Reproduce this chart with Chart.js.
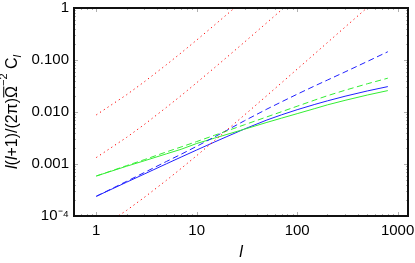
<!DOCTYPE html>
<html>
<head>
<meta charset="utf-8">
<script src="https://cdn.jsdelivr.net/npm/chart.js@4/dist/chart.umd.min.js"></script>
<style>
    html, body { margin: 0; padding: 0; background: #fff; }
    #wrap { width: 415px; height: 263px; }
</style>
</head>
<body>
<div id="wrap"><canvas id="chart"></canvas></div>
<script>
const FONT = "'Liberation Sans', Arial, sans-serif";

// multipoles l
const L = [1, 2, 3, 5, 7, 10, 15, 20, 30, 50, 70, 100, 150, 200, 300, 500, 800];

// red dotted reference curves (null = off the top of the plot)
const RED_1 = [0.00879, 0.0214, 0.0379, 0.0813, 0.137, 0.242, 0.468, 0.752, 1.47, null, null, null, null, null, null, null, null];
const RED_2 = [0.00133, 0.00324, 0.00573, 0.0123, 0.0207, 0.0366, 0.0707, 0.1135, 0.222, 0.523, 0.922, 1.68, null, null, null, null, null];
const RED_3 = [5.26e-5, 1.28e-4, 2.27e-4, 4.87e-4, 8.22e-4, 1.45e-3, 2.80e-3, 4.50e-3, 8.81e-3, 0.0207, 0.0365, 0.0667, 0.1325, 0.216, 0.429, 1.02, null];

// blue and green spectra
const BLUE_SOLID = [2.39e-4, 4.46e-4, 6.40e-4, 1.01e-3, 1.36e-3, 1.86e-3, 2.64e-3, 3.37e-3, 4.73e-3, 7.02e-3, 8.83e-3, 0.01107, 0.0140, 0.01637, 0.0201, 0.0254, 0.0308];
const BLUE_DASHED = [2.39e-4, 4.63e-4, 6.84e-4, 1.12e-3, 1.54e-3, 2.19e-3, 3.31e-3, 4.46e-3, 6.81e-3, 0.01138, 0.01570, 0.02198, 0.03184, 0.04111, 0.0590, 0.0938, 0.1442];
const GREEN_SOLID = [5.87e-4, 9.04e-4, 1.15e-3, 1.57e-3, 1.92e-3, 2.48e-3, 3.14e-3, 3.71e-3, 4.68e-3, 6.31e-3, 7.62e-3, 9.29e-3, 0.01164, 0.01371, 0.01675, 0.0212, 0.0258];
const GREEN_DASHED = [5.87e-4, 9.29e-4, 1.21e-3, 1.71e-3, 2.13e-3, 2.70e-3, 3.56e-3, 4.33e-3, 5.70e-3, 8.06e-3, 0.01013, 0.01291, 0.01700, 0.02056, 0.0262, 0.0349, 0.0447];

// axes
const X_TICKS = [1, 10, 100, 1000];
const X_TICK_LABELS = ['1', '10', '100', '1000'];
const Y_TICKS = [1e-4, 0.001, 0.01, 0.1, 1];
const Y_TICK_LABELS = ['10\u207B\u2074', '0.001', '0.010', '0.100', '1'];
const X_MIN = 0.62, X_MAX = 1270;
const Y_MIN = 1e-4, Y_MAX = 1;

function points(values) {
    return L.map((l, i) => ({ x: l, y: values[i] }));
}

function series(values, color, dash) {
    return {
        data: points(values),
        borderColor: color,
        borderWidth: 1,
        borderDash: dash,
        pointRadius: 0,
        fill: false,
        tension: 0,
    };
}

function minorValues(min, max) {
    const out = [];
    for (let d = Math.floor(Math.log10(min)); d <= Math.ceil(Math.log10(max)); d++) {
        for (let k = 1; k <= 9; k++) {
            const v = k * Math.pow(10, d);
            if (v >= min && v <= max) out.push({ v: v, major: k === 1 });
        }
    }
    return out;
}

// Mathematica-style frame with inward ticks on all four sides
const framePlugin = {
    id: 'frame',
    afterDatasetsDraw(chart) {
        const { ctx, chartArea: a, scales } = chart;
        ctx.save();
        ctx.strokeStyle = '#b0b0b0';
        ctx.lineWidth = 1;
        ctx.beginPath();
        for (const t of minorValues(X_MIN, X_MAX)) {
            const x = Math.round(scales.x.getPixelForValue(t.v)) + 0.5;
            const len = t.major ? 4 : 2;
            ctx.moveTo(x, a.bottom); ctx.lineTo(x, a.bottom - len);
            ctx.moveTo(x, a.top); ctx.lineTo(x, a.top + len);
        }
        for (const t of minorValues(Y_MIN, Y_MAX)) {
            const y = Math.round(scales.y.getPixelForValue(t.v)) + 0.5;
            const len = t.major ? 4 : 2;
            ctx.moveTo(a.left, y); ctx.lineTo(a.left + len, y);
            ctx.moveTo(a.right, y); ctx.lineTo(a.right - len, y);
        }
        ctx.stroke();
        ctx.strokeStyle = '#111';
        ctx.lineWidth = 2;
        ctx.strokeRect(a.left, a.top, a.right - a.left, a.bottom - a.top);
        ctx.restore();
    }
};

// y axis title: l(l+1)/(2π) Ω̄^-2 C_l
const yTitlePlugin = {
    id: 'yTitle',
    afterDraw(chart) {
        const { ctx, chartArea: a } = chart;
        const size = 16;
        const parts = [
            { t: 'l', it: true },
            { t: '(' },
            { t: 'l', it: true },
            { t: '+1)/(2\u03C0)' },
            { t: '\u03A9', bar: true },
            { t: '\u22122', sup: true },
            { t: ' C' },
            { t: 'l', it: true, sub: true },
        ];
        const fontFor = p => `${p.it ? 'italic ' : ''}${p.sup || p.sub ? Math.round(size * 0.7) : size}px ${FONT}`;
        ctx.save();
        let total = 0;
        for (const p of parts) {
            ctx.font = fontFor(p);
            p.w = ctx.measureText(p.t).width;
            total += p.w;
        }
        ctx.translate(17, (a.top + a.bottom) / 2);
        ctx.rotate(-Math.PI / 2);
        ctx.fillStyle = '#000';
        ctx.strokeStyle = '#000';
        ctx.textBaseline = 'alphabetic';
        let x = -total / 2;
        for (const p of parts) {
            ctx.font = fontFor(p);
            let y = 0;
            if (p.sup) y = -size * 0.62;
            if (p.sub) y = size * 0.25;
            ctx.fillText(p.t, x, y);
            if (p.bar) {
                ctx.lineWidth = 1;
                ctx.beginPath();
                ctx.moveTo(x + 0.5, -size * 0.83);
                ctx.lineTo(x + p.w - 0.5, -size * 0.83);
                ctx.stroke();
            }
            x += p.w;
        }
        ctx.restore();
    }
};

new Chart(document.getElementById('chart'), {
    type: 'line',
    data: {
        datasets: [
            series(RED_1, '#ff0000', [1.2, 3.3]),
            series(RED_2, '#ff0000', [1.2, 3.3]),
            series(RED_3, '#ff0000', [1.2, 3.3]),
            series(GREEN_DASHED, '#33ee33', [6, 3.5]),
            series(BLUE_DASHED, '#2020ff', [6, 3.5]),
            series(GREEN_SOLID, '#33ee33', []),
            series(BLUE_SOLID, '#2020ff', []),
        ]
    },
    options: {
        responsive: true,
        maintainAspectRatio: false,
        animation: false,
        layout: {
            padding: { top: 8, right: 7, left: 0, bottom: 0 }
        },
        plugins: {
            legend: { display: false },
            tooltip: { enabled: false }
        },
        scales: {
            x: {
                type: 'logarithmic',
                min: X_MIN,
                max: X_MAX,
                afterBuildTicks: axis => { axis.ticks = X_TICKS.map(v => ({ value: v })); },
                afterFit: axis => {
                    axis.height = 47;
                    axis.paddingLeft = 0;
                    axis.paddingRight = 0;
                },
                ticks: {
                    autoSkip: false,
                    maxRotation: 0,
                    padding: 6,
                    color: '#000',
                    font: { family: FONT, size: 15 },
                    callback: v => X_TICK_LABELS[X_TICKS.indexOf(v)] ?? ''
                },
                grid: { display: false, drawTicks: false },
                border: { display: false },
                title: {
                    display: true,
                    text: 'l',
                    color: '#000',
                    font: { family: FONT, size: 16, style: 'italic' },
                    padding: { top: 0, bottom: 1 }
                }
            },
            y: {
                type: 'logarithmic',
                min: Y_MIN,
                max: Y_MAX,
                afterBuildTicks: axis => { axis.ticks = Y_TICKS.map(v => ({ value: v })); },
                afterFit: axis => {
                    axis.width = 74;
                    axis.paddingTop = 0;
                    axis.paddingBottom = 0;
                },
                ticks: {
                    autoSkip: false,
                    padding: 5,
                    color: '#000',
                    font: { family: FONT, size: 15 },
                    callback: v => Y_TICK_LABELS[Y_TICKS.indexOf(v)] ?? ''
                },
                grid: { display: false, drawTicks: false },
                border: { display: false }
            }
        }
    },
    plugins: [framePlugin, yTitlePlugin]
});
</script>
</body>
</html>
